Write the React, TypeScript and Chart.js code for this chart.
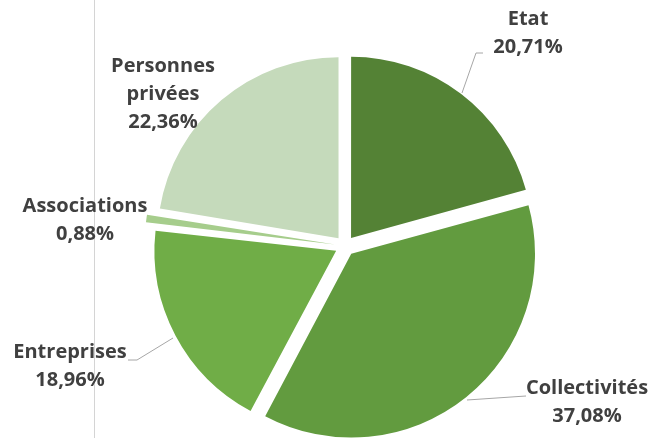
import React, { useEffect, useRef } from "react";
import { Chart, registerables } from "chart.js";

Chart.register(...registerables);

const categories = ["Etat", "Collectivités", "Entreprises", "Associations", "Personnes privées"];
const values = [20.71, 37.08, 18.96, 0.88, 22.36];
const valueLabels = ["20,71%", "37,08%", "18,96%", "0,88%", "22,36%"];
const labelLines = [["Etat"], ["Collectivités"], ["Entreprises"], ["Associations"], ["Personnes", "privées"]];
const colors = ["#548235", "#629b3f", "#70ad47", "#a6cd8c", "#c5dabb"];

// label anchor (center x, top of first line) and leader line points
const labelPos = [
  { x: 528, y: 12 },
  { x: 587, y: 381 },
  { x: 70, y: 345 },
  { x: 85, y: 199 },
  { x: 163, y: 59 },
];
const leaderLines: (number[][] | null)[] = [
  [[483, 53], [476, 53], [462, 93]],
  [[526, 396], [467, 400]],
  [[128, 360], [137, 360], [173, 338]],
  null,
  null,
];

const labelPlugin = {
  id: "outLabels",
  beforeDraw(chart: any) {
    const ctx = chart.ctx;
    ctx.save();
    ctx.strokeStyle = "#d4d4d4";
    ctx.lineWidth = 1;
    ctx.beginPath();
    ctx.moveTo(94.5, 0);
    ctx.lineTo(94.5, 438);
    ctx.stroke();
    ctx.restore();
  },
  afterDraw(chart: any) {
    const ctx = chart.ctx;
    ctx.save();
    ctx.strokeStyle = "#a6a6a6";
    ctx.lineWidth = 1;
    leaderLines.forEach((pts) => {
      if (!pts) return;
      ctx.beginPath();
      pts.forEach((p, i) => (i === 0 ? ctx.moveTo(p[0], p[1]) : ctx.lineTo(p[0], p[1])));
      ctx.stroke();
    });
    ctx.fillStyle = "#404040";
    ctx.font = "bold 20px 'Open Sans'";
    ctx.textAlign = "center";
    ctx.textBaseline = "top";
    const lh = 28;
    categories.forEach((c, i) => {
      const lines = [...labelLines[i], valueLabels[i]];
      const pos = labelPos[i];
      lines.forEach((t, j) => {
        ctx.fillText(t, pos.x, pos.y - 3 + j * lh);
      });
    });
    ctx.restore();
  },
};

export default function App() {
  const ref = useRef<HTMLCanvasElement>(null);
  useEffect(() => {
    const chart = new Chart(ref.current!, {
      type: "pie",
      data: {
        labels: categories,
        datasets: [
          {
            data: values,
            backgroundColor: colors,
            borderWidth: 0,
            offset: 40,
            radius: 181,
            clip: false,
          } as any,
        ],
      },
      options: {
        animation: false,
        responsive: false,
        layout: { padding: { left: 38, right: 0, top: 54, bottom: 0 } },
        plugins: { legend: { display: false }, tooltip: { enabled: false } },
      } as any,
      plugins: [labelPlugin],
    });
    return () => chart.destroy();
  }, []);
  return (
    <div style={{ position: "fixed", left: 0, top: 0, width: 652, height: 438, background: "#fff" }}>
      <canvas ref={ref} width={652} height={438} />
    </div>
  );
}
